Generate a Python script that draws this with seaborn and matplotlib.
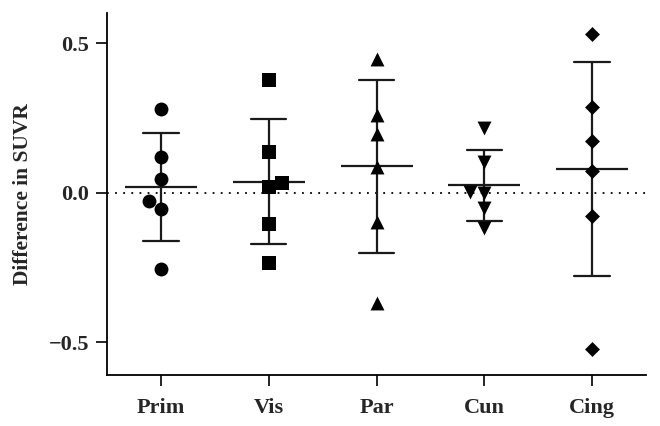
import pandas as pd
import matplotlib.pyplot as plt
import seaborn as sns

regions = ['Prim', 'Vis', 'Par', 'Cun', 'Cing']
prim = [0.280, 0.120, 0.046, -0.028, -0.056, -0.256]
vis = [0.376, 0.134, 0.017, 0.033, -0.106, -0.236]
par = [0.448, 0.261, 0.197, 0.087, -0.097, -0.371]
cun = [0.215, 0.101, 0.002, 0.000, -0.053, -0.119]
cing = [0.531, 0.285, 0.174, 0.073, -0.077, -0.522]
markers = ['o', 's', '^', 'v', 'D']
sizes = [10, 9.8, 10, 10, 7.6]

values = [prim, vis, par, cun, cing]
df = pd.DataFrame({
    'region': [r for r, v in zip(regions, values) for _ in v],
    'diff': [x for v in values for x in v],
})

sns.set_style('ticks')
plt.rcParams['font.family'] = ['Liberation Serif', 'DejaVu Serif']
plt.rcParams['font.weight'] = 'bold'

fig = plt.figure(figsize=(6.6, 4.26), dpi=100)
ax = fig.add_axes([0.162, 0.12, 0.817, 0.849])

ax.axhline(0, color='black', lw=1.3, linestyle=(0, (1, 3.5)), zorder=0)

# mean +/- SD
sns.pointplot(data=df, x='region', y='diff', order=regions, errorbar='sd',
              capsize=0.33, color='#1a1a1a', marker='_', markersize=52,
              markeredgewidth=1.6, linestyle='none',
              err_kws={'linewidth': 1.6}, ax=ax, zorder=2)

for r, m, s in zip(regions, markers, sizes):
    sns.swarmplot(data=df[df['region'] == r], x='region', y='diff',
                  order=regions, marker=m, size=s, color='black',
                  linewidth=0, ax=ax, zorder=3)

ax.set_xlim(-0.5, 4.5)
ax.set_ylim(-0.61, 0.6)
ax.set_yticks([-0.5, 0.0, 0.5])
ax.set_yticklabels(['\u22120.5', '0.0', '0.5'])
ax.set_xlabel('')
ax.set_ylabel('Difference in SUVR', fontsize=15.5, fontweight='bold', labelpad=11)
ax.tick_params(axis='both', labelsize=16, length=8, width=1.2, color='black')
ax.tick_params(axis='y', pad=5)
ax.tick_params(axis='x', pad=9)
for lab in ax.get_xticklabels() + ax.get_yticklabels():
    lab.set_fontweight('bold')
sns.despine(ax=ax)
for sp in ['left', 'bottom']:
    ax.spines[sp].set_linewidth(1.3)
    ax.spines[sp].set_color('black')

fig.savefig('out.png', dpi=100)
